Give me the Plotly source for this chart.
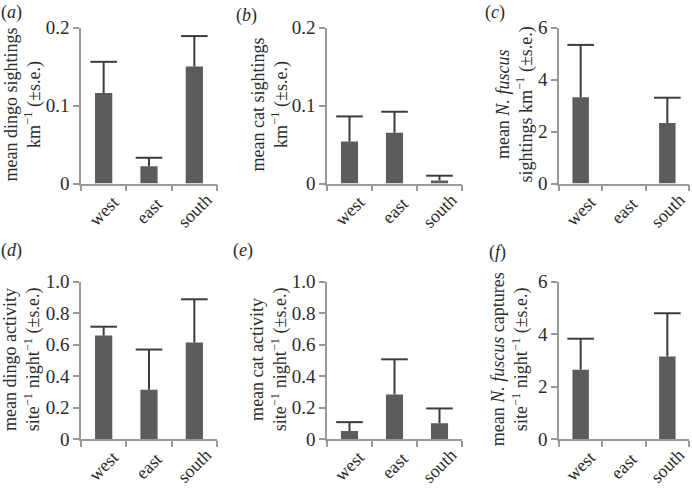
import plotly.graph_objects as go

W, H = 692, 494

categories = ["west", "east", "south"]

dingo_sight_mean = [0.116, 0.022, 0.150]
dingo_sight_se = [0.040, 0.011, 0.039]

cat_sight_mean = [0.054, 0.065, 0.004]
cat_sight_se = [0.032, 0.027, 0.006]

fuscus_sight_mean = [3.32, 0.0, 2.33]
fuscus_sight_se = [2.01, 0.0, 0.97]

dingo_act_mean = [0.657, 0.313, 0.613]
dingo_act_se = [0.056, 0.255, 0.274]

cat_act_mean = [0.051, 0.282, 0.100]
cat_act_se = [0.056, 0.224, 0.094]

fuscus_cap_mean = [2.64, 0.0, 3.14]
fuscus_cap_se = [1.18, 0.0, 1.65]

panels = [
    dict(mean=dingo_sight_mean, se=dingo_sight_se, yr=0.2,
         tv=[0, 0.1, 0.2], tt=["0", "0.1", "0.2"],
         title="mean dingo sightings<br>km<sup>−1</sup> (±s.e.)", label="(<i>a</i>)"),
    dict(mean=cat_sight_mean, se=cat_sight_se, yr=0.2,
         tv=[0, 0.1, 0.2], tt=["0", "0.1", "0.2"],
         title="mean cat sightings<br>km<sup>−1</sup> (±s.e.)", label="(<i>b</i>)"),
    dict(mean=fuscus_sight_mean, se=fuscus_sight_se, yr=6,
         tv=[0, 2, 4, 6], tt=["0", "2", "4", "6"],
         title="mean <i>N. fuscus</i><br>sightings km<sup>−1</sup> (±s.e.)", label="(<i>c</i>)"),
    dict(mean=dingo_act_mean, se=dingo_act_se, yr=1.0,
         tv=[0, 0.2, 0.4, 0.6, 0.8, 1.0], tt=["0", "0.2", "0.4", "0.6", "0.8", "1.0"],
         title="mean dingo activity<br>site<sup>−1</sup> night<sup>−1</sup> (±s.e.)", label="(<i>d</i>)"),
    dict(mean=cat_act_mean, se=cat_act_se, yr=1.0,
         tv=[0, 0.2, 0.4, 0.6, 0.8, 1.0], tt=["0", "0.2", "0.4", "0.6", "0.8", "1.0"],
         title="mean cat activity<br>site<sup>−1</sup> night<sup>−1</sup> (±s.e.)", label="(<i>e</i>)"),
    dict(mean=fuscus_cap_mean, se=fuscus_cap_se, yr=6,
         tv=[0, 2, 4, 6], tt=["0", "2", "4", "6"],
         title="mean <i>N. fuscus</i> captures<br>site<sup>−1</sup> night<sup>−1</sup> (±s.e.)", label="(<i>f</i>)"),
]

# layout geometry (pixels)
col_x = [(81, 217), (327, 462), (559, 689)]
row_y = [(27.5, 183.5), (281.5, 439)]
title_x = [22, 269, 514, 22, 269, 510]
label_pos = [(12, 12), (246, 15), (495, 12), (12, 250), (243, 250), (497, 252)]

FONT = "Liberation Serif, Times New Roman, serif"
TXT = "#2b2b2b"
AX = "#9a9a9a"
BAR = "#5c5c5c"
ERR = "#3c3c3c"

xpos = list(range(len(categories)))
bounds = [k - 0.5 for k in range(len(categories) + 1)]

fig = go.Figure()
annotations = []

for i, p in enumerate(panels):
    r, c = divmod(i, 3)
    n = i + 1
    xs = "x" if n == 1 else f"x{n}"
    ys = "y" if n == 1 else f"y{n}"
    x0, x1 = col_x[c]
    y0, y1 = row_y[r]

    fig.add_trace(go.Bar(
        x=xpos, y=p["mean"], xaxis=xs, yaxis=ys,
        marker=dict(color=BAR, line=dict(width=0)),
        error_y=dict(type="data", array=p["se"], arrayminus=[0] * 3,
                     symmetric=False, color=ERR, thickness=2, width=0),
        showlegend=False, hoverinfo="skip",
    ))
    caps = [m + s if s > 0 else None for m, s in zip(p["mean"], p["se"])]
    fig.add_trace(go.Scatter(
        x=xpos, y=caps, xaxis=xs, yaxis=ys, mode="markers",
        marker=dict(symbol="line-ew", size=19, line=dict(width=2, color=ERR)),
        showlegend=False, hoverinfo="skip", cliponaxis=False,
    ))

    xa = dict(domain=[x0 / W, x1 / W], anchor=ys, type="linear",
              range=[bounds[0], bounds[-1]],
              tickmode="array", tickvals=xpos, ticktext=categories, ticks="",
              showticklabels=False,
              minor=dict(tickmode="array", tickvals=bounds, ticks="outside",
                         ticklen=6, tickcolor=AX, tickwidth=1.5, showgrid=False),
              showline=True, linecolor=AX, linewidth=1.5,
              showgrid=False, zeroline=False, fixedrange=True, automargin=False)
    ya = dict(domain=[1 - y1 / H, 1 - y0 / H], anchor=xs,
              range=[0, p["yr"]], tickmode="array", tickvals=p["tv"], ticktext=p["tt"],
              showline=True, linecolor=AX, linewidth=1.5,
              ticks="outside", ticklen=6, tickcolor=AX, tickwidth=1.5,
              tickfont=dict(family=FONT, size=19, color=TXT),
              showgrid=False, zeroline=False, fixedrange=True, automargin=False)
    fig.layout[f"xaxis{'' if n == 1 else n}"] = xa
    fig.layout[f"yaxis{'' if n == 1 else n}"] = ya

    # rotated category labels, centred below each category
    for k, cat in zip(xpos, categories):
        annotations.append(dict(
            text=cat, textangle=-45, xref=xs, yref="paper",
            x=k, y=1 - y1 / H, xshift=0, yshift=-27,
            xanchor="center", yanchor="middle", showarrow=False,
            font=dict(family=FONT, size=18, color=TXT),
        ))

    annotations.append(dict(
        text=p["title"], textangle=-90, xref="paper", yref="paper",
        x=title_x[i] / W, y=1 - ((y0 + y1) / 2 - 1) / H,
        xanchor="center", yanchor="middle", showarrow=False, align="center",
        font=dict(family=FONT, size=18, color=TXT),
    ))
    lx, ly = label_pos[i]
    annotations.append(dict(
        text=p["label"], xref="paper", yref="paper", x=lx / W, y=1 - ly / H,
        xanchor="center", yanchor="middle", showarrow=False,
        font=dict(family=FONT, size=18, color=TXT),
    ))

fig.update_layout(
    width=W, height=H, margin=dict(l=0, r=0, t=0, b=0, autoexpand=False),
    paper_bgcolor="white", plot_bgcolor="white",
    bargap=0.62, annotations=annotations,
    font=dict(family=FONT, color=TXT),
)

fig.write_html("out.html", config={"displayModeBar": False},
               post_script="document.body.style.margin='0px';")
